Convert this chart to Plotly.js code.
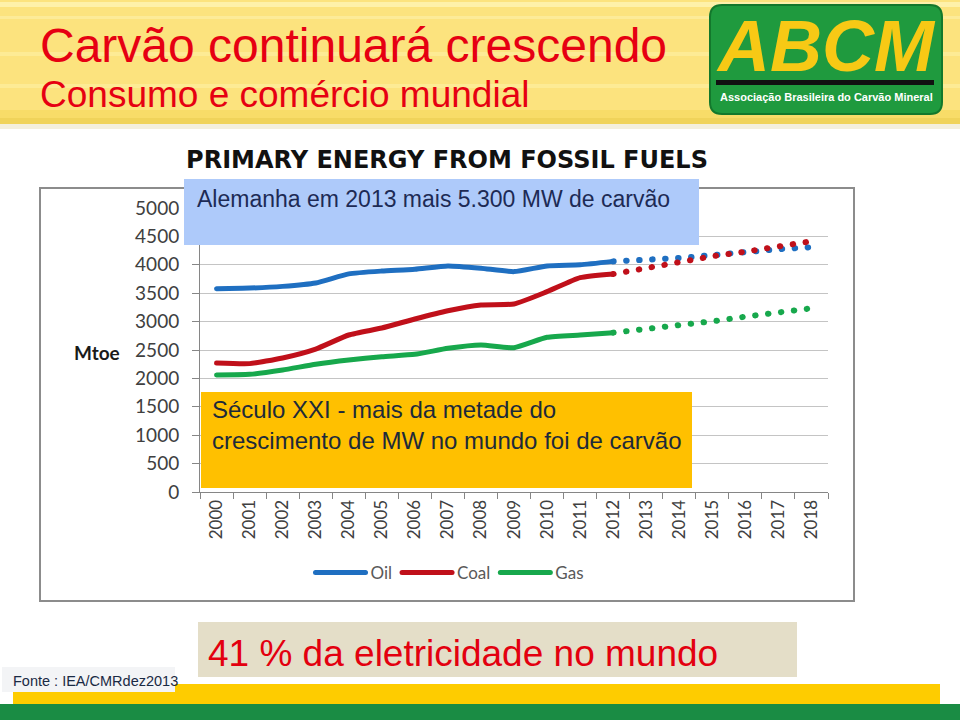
<!DOCTYPE html>
<html>
<head>
<meta charset="utf-8">
<script src="https://cdn.plot.ly/plotly-3.0.1.min.js"></script>
<style>
  html, body { margin: 0; padding: 0; background: #ffffff; }
  #chart { width: 960px; height: 720px; }
  .js-line { stroke-linecap: round; stroke-linejoin: round; }
</style>
</head>
<body>
<div id="chart"></div>
<script>
// ---- data (Mtoe) ----
const histYears = ['2000','2001','2002','2003','2004','2005','2006','2007','2008','2009','2010','2011','2012'];
const projYears = ['2013','2014','2015','2016','2017','2018'];
const oilHist  = [3580, 3590, 3620, 3680, 3840, 3890, 3920, 3980, 3940, 3880, 3980, 4000, 4060];
const coalHist = [2270, 2260, 2360, 2517, 2764, 2887, 3046, 3191, 3292, 3310, 3527, 3773, 3838];
const gasHist  = [2060, 2072, 2148, 2248, 2324, 2383, 2424, 2530, 2588, 2541, 2723, 2764, 2805];
const oilProj  = [4085, 4120, 4170, 4230, 4275, 4310];
const coalProj = [3950, 4040, 4150, 4230, 4330, 4415];
const gasProj  = [2870, 2928, 3005, 3087, 3169, 3234];
const seriesNames = ['Oil', 'Coal', 'Gas'];
const yTicks = [0, 500, 1000, 1500, 2000, 2500, 3000, 3500, 4000, 4500, 5000];

// ---- layout helpers (pixel -> paper) ----
const L = 200, R = 828, T = 208, B = 492;
const px = x => (x - L) / (R - L);
const py = y => (B - y) / (B - T);

const colors = ['#1f6fc1', '#c0101a', '#17a84c'];
const hist = [oilHist, coalHist, gasHist];
const proj = [oilProj, coalProj, gasProj];

const traces = [];
for (let i = 0; i < 3; i++) {
  traces.push({
    type: 'scatter', mode: 'lines', name: seriesNames[i],
    x: histYears, y: hist[i],
    line: { color: colors[i], width: 5, shape: 'spline', smoothing: 0.5 },
    hoverinfo: 'skip'
  });
}
for (let i = 0; i < 3; i++) {
  traces.push({
    type: 'scatter', mode: 'lines', name: seriesNames[i] + ' (proj.)', showlegend: false,
    x: [histYears[histYears.length - 1]].concat(projYears),
    y: [hist[i][hist[i].length - 1]].concat(proj[i]),
    line: { color: colors[i], width: 6, dash: '0.5px,12.5px' },
    hoverinfo: 'skip'
  });
}

function roundRect(x0, y0, x1, y1, r) {
  const X = v => px(v), Y = v => py(v);
  return 'M' + X(x0 + r) + ',' + Y(y0) +
    ' L' + X(x1 - r) + ',' + Y(y0) +
    ' Q' + X(x1) + ',' + Y(y0) + ' ' + X(x1) + ',' + Y(y0 + r) +
    ' L' + X(x1) + ',' + Y(y1 - r) +
    ' Q' + X(x1) + ',' + Y(y1) + ' ' + X(x1 - r) + ',' + Y(y1) +
    ' L' + X(x0 + r) + ',' + Y(y1) +
    ' Q' + X(x0) + ',' + Y(y1) + ' ' + X(x0) + ',' + Y(y1 - r) +
    ' L' + X(x0) + ',' + Y(y0 + r) +
    ' Q' + X(x0) + ',' + Y(y0) + ' ' + X(x0 + r) + ',' + Y(y0) + ' Z';
}

const rect = (x0, y0, x1, y1, fill, layer, line) => ({
  type: 'rect', xref: 'paper', yref: 'paper',
  x0: px(x0), x1: px(x1), y0: py(y0), y1: py(y1),
  fillcolor: fill, line: line || { width: 0 }, layer: layer || 'below'
});

const shapes = [
  // header background
  rect(0, 0, 960, 124, '#fce37e'),
  rect(0, 2, 960, 7, '#fef1aa'),
  rect(0, 16, 960, 19, '#fdeb98'),
  rect(0, 52, 960, 56, '#fdeb95'),
  rect(0, 84, 960, 88, '#fdeb95'),
  rect(0, 110, 960, 118, '#f8dc68'),
  rect(0, 118, 960, 124, '#f0d35a'),
  rect(0, 124, 960, 129, '#f4efdc'),
  // logo
  { type: 'path', xref: 'paper', yref: 'paper', layer: 'below',
    path: roundRect(710, 5, 942, 114, 12), fillcolor: '#1f9a3e', line: { color: '#13782c', width: 2 } },
  rect(716, 80, 934, 85, '#111111'),
  // chart frame
  rect(40, 188, 854, 601, 'rgba(0,0,0,0)', 'below', { color: '#8c8c8c', width: 2 }),
  // overlay boxes
  rect(184, 179, 699, 245, '#aecafa', 'above'),
  rect(201, 392, 692, 488, '#ffc000', 'above'),
  // bottom
  rect(198, 622, 797, 677, '#e4dec8', 'above'),
  rect(13, 684, 940, 704, '#fecc00', 'above'),
  rect(2, 667, 175, 692, '#f3f4f6', 'above'),
  rect(0, 704, 960, 720, '#1a8c44', 'above')
];

const sans = 'Liberation Sans, Arial, sans-serif';
const ann = (text, x, y, size, color, opts) => Object.assign({
  text: text, xref: 'paper', yref: 'paper', x: px(x), y: py(y),
  xanchor: 'left', yanchor: 'middle', showarrow: false, align: 'left',
  font: { family: sans, size: size, color: color }
}, opts || {});

const annotations = [
  ann('Carvão continuará crescendo', 38, 45, 48, '#e60012'),
  ann('Consumo e comércio mundial', 38, 94, 37, '#e60012'),
  ann('<b><i>ABCM</i></b>', 826, 46, 72, '#f7c915', { xanchor: 'center' }),
  ann('<b>Associação Brasileira do Carvão Mineral</b>', 826, 97, 11, '#ffffff', { xanchor: 'center' }),
  ann('<b>Mtoe</b>', 97, 352, 19, '#1a1a1a', { xanchor: 'center', font: { family: 'Lato, sans-serif', size: 19, color: '#1a1a1a' } }),
  ann('Alemanha em 2013 mais 5.300 MW de carvão', 195, 199, 23, '#1d2a55'),
  ann('Século XXI - mais da metade do<br>crescimento de MW no mundo foi de carvão', 210, 425, 24, '#1d2a3a'),
  ann('41 % da eletricidade no mundo', 206, 653, 37, '#e3000f'),
  ann('Fonte : IEA/CMRdez2013', 11, 681, 14.5, '#1a2a44')
];

const layout = {
  width: 960, height: 720, autosize: false,
  margin: { l: L, r: 960 - R, t: T, b: 720 - B, pad: 0 },
  paper_bgcolor: '#ffffff', plot_bgcolor: 'rgba(0,0,0,0)',
  title: {
    text: '<b>PRIMARY ENERGY FROM FOSSIL FUELS</b>',
    x: 447 / 960, xanchor: 'center', xref: 'container',
    y: 1 - 160 / 720, yanchor: 'middle', yref: 'container',
    font: { family: 'DejaVu Sans, sans-serif', size: 24, color: '#111111' }
  },
  showlegend: true,
  legend: {
    orientation: 'h', x: px(450), xanchor: 'center', y: py(573), yanchor: 'middle',
    font: { family: 'Lato, sans-serif', size: 17, color: '#595959' },
    bgcolor: 'rgba(0,0,0,0)', itemwidth: 50
  },
  xaxis: {
    type: 'category', range: [-0.5, 18.5], fixedrange: true,
    categoryorder: 'array', categoryarray: histYears.concat(projYears),
    tickmode: 'array', tickvals: histYears.concat(projYears), ticktext: histYears.concat(projYears),
    tickson: 'boundaries', ticks: 'outside', ticklen: 6, tickcolor: '#868686',
    tickangle: -90, tickfont: { family: 'Lato, sans-serif', size: 17, color: '#404040' },
    showgrid: false, showline: true, linecolor: '#868686', linewidth: 1, zeroline: false
  },
  yaxis: {
    range: [0, 5000], fixedrange: true,
    tickmode: 'array', tickvals: yTicks, ticktext: yTicks.map(String),
    ticks: 'outside', ticklen: 7, tickcolor: '#868686', ticklabelstandoff: 9,
    tickfont: { family: 'Lato, sans-serif', size: 19, color: '#404040' },
    showgrid: true, gridcolor: '#c4c4c4', gridwidth: 1,
    showline: true, linecolor: '#868686', linewidth: 1, zeroline: false
  },
  shapes: shapes,
  annotations: annotations
};

Plotly.newPlot('chart', traces, layout, { staticPlot: true, displayModeBar: false });
</script>
</body>
</html>
